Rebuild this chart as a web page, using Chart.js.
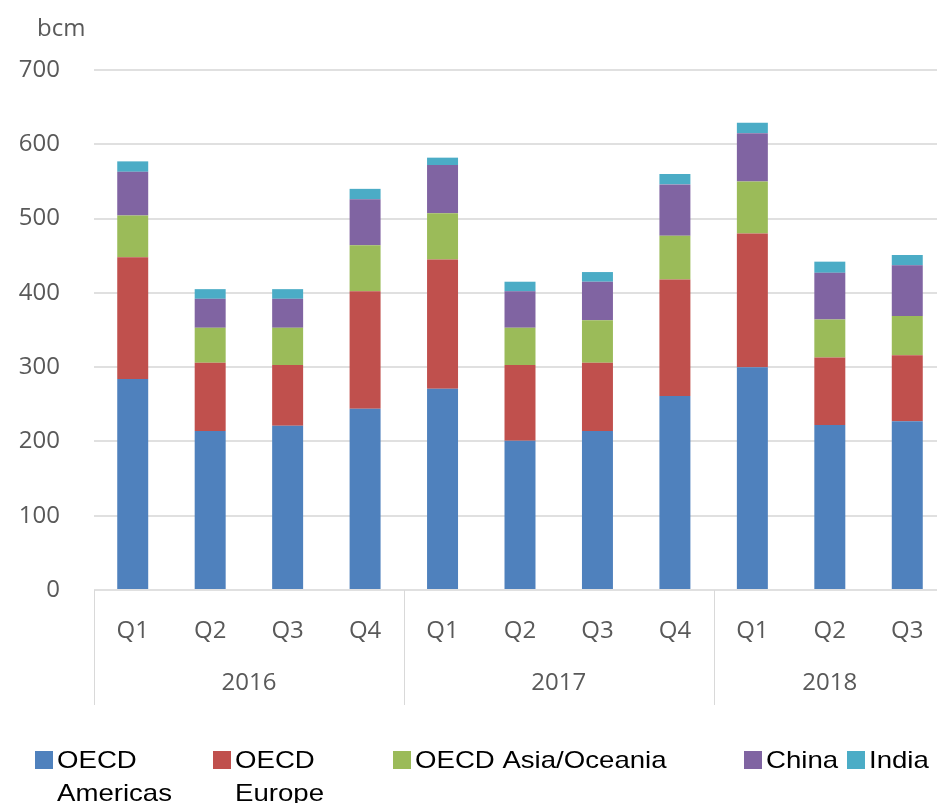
<!DOCTYPE html>
<html>
<head>
<meta charset="utf-8">
<script src="https://cdn.jsdelivr.net/npm/chart.js@4.4.1/dist/chart.umd.min.js"></script>
<style>
  html, body { margin: 0; padding: 0; background: #fff; overflow: hidden; }
  canvas { display: block; }
</style>
</head>
<body>
<!-- the plot runs a little past the right edge of the page -->
<canvas id="gasChart" width="946" height="803"></canvas>
<script>
const quarters = ['Q1', 'Q2', 'Q3', 'Q4', 'Q1', 'Q2', 'Q3', 'Q4', 'Q1', 'Q2', 'Q3'];
const years = ['2016', '2016', '2016', '2016', '2017', '2017', '2017', '2017', '2018', '2018', '2018'];

// bcm per quarter
const oecdAmericas = [284, 214, 221, 244, 271, 201, 214, 261, 300, 222, 227];
const oecdEurope = [164, 92, 82, 158, 174, 102, 92, 157, 180, 91, 89];
const oecdAsiaOceania = [56, 47, 50, 62, 62, 50, 57, 59, 70, 51, 53];
const china = [59, 39, 39, 62, 65, 49, 52, 69, 65, 63, 68];
const india = [14, 13, 13, 14, 10, 13, 13, 14, 14, 15, 14];

const seriesNames = [['OECD', 'Americas'], ['OECD', 'Europe'], ['OECD Asia/Oceania'], ['China'], ['India']];
const seriesColors = ['#4F81BD', '#C0504D', '#9BBB59', '#8064A2', '#4BACC6'];
const yMax = 700;
const yStep = 100;
const unitLabel = 'bcm';

const tickFamily = "'Open Sans', 'DejaVu Sans', sans-serif";
const legendFamily = "'Liberation Sans', Arial, sans-serif";
const axisGrey = '#595959';

const series = [oecdAmericas, oecdEurope, oecdAsiaOceania, china, india];

// second row of the category axis: year names and the lines between them
const yearGroups = {
  id: 'yearGroups',
  afterDraw(chart) {
    const { ctx, chartArea, scales: { x } } = chart;
    const half = (x.getPixelForValue(1) - x.getPixelForValue(0)) / 2;
    const top = chartArea.bottom;
    const groups = [];
    years.forEach((yr, i) => {
      const last = groups[groups.length - 1];
      if (last && last.label === yr) last.end = i;
      else groups.push({ label: yr, start: i, end: i });
    });

    ctx.save();
    ctx.strokeStyle = '#d9d9d9';
    ctx.lineWidth = 1;
    ctx.fillStyle = axisGrey;
    ctx.font = `24px ${tickFamily}`;
    ctx.textAlign = 'center';
    ctx.textBaseline = 'middle';
    groups.forEach((g) => {
      const left = x.getPixelForValue(g.start) - half;
      const right = x.getPixelForValue(g.end) + half;
      [left, right].forEach((px) => {
        const sx = Math.round(px) + 0.5;
        ctx.beginPath();
        ctx.moveTo(sx, top);
        ctx.lineTo(sx, top + 115);
        ctx.stroke();
      });
      ctx.fillText(g.label, (left + right) / 2, top + 93);
    });
    ctx.restore();
  }
};

// unit text above the value axis
const unitTitle = {
  id: 'unitTitle',
  afterDraw(chart) {
    const { ctx } = chart;
    ctx.save();
    ctx.fillStyle = axisGrey;
    ctx.font = `24px ${tickFamily}`;
    ctx.textAlign = 'left';
    ctx.textBaseline = 'alphabetic';
    ctx.fillText(unitLabel, 37, 36);
    ctx.restore();
  }
};

// legend laid out in fixed columns, names may wrap over two lines
const legendRow = {
  id: 'legendRow',
  afterDraw(chart, args, opts) {
    const { ctx } = chart;
    ctx.save();
    ctx.font = `${opts.fontSize}px ${legendFamily}`;
    ctx.textAlign = 'left';
    ctx.textBaseline = 'alphabetic';
    chart.data.datasets.forEach((ds, i) => {
      const x = opts.columns[i];
      ctx.fillStyle = ds.backgroundColor;
      ctx.fillRect(x, opts.boxTop, opts.box, opts.box);
      ctx.fillStyle = '#000';
      ds.legendLines.forEach((line, j) => {
        ctx.save();
        ctx.translate(x + opts.box + 4, opts.baseline + j * opts.lineHeight);
        ctx.scale(opts.stretch, 1);
        ctx.fillText(line, 0, 0);
        ctx.restore();
      });
    });
    ctx.restore();
  }
};

new Chart(document.getElementById('gasChart'), {
  type: 'bar',
  data: {
    labels: quarters,
    datasets: series.map((values, i) => ({
      label: seriesNames[i].join(' '),
      legendLines: seriesNames[i],
      data: values,
      backgroundColor: seriesColors[i],
      borderWidth: 0,
      categoryPercentage: 1,
      barPercentage: 0.4
    }))
  },
  options: {
    responsive: false,
    animation: false,
    devicePixelRatio: 1,
    layout: {
      padding: { top: 70, left: 0, right: 0, bottom: 88 }
    },
    plugins: {
      legend: { display: false },
      tooltip: { enabled: false },
      legendRow: {
        columns: [35, 213, 393, 744, 847],
        boxTop: 751,
        box: 18,
        baseline: 768,
        lineHeight: 33,
        fontSize: 24,
        stretch: 1.15
      }
    },
    scales: {
      x: {
        stacked: true,
        grid: { display: false },
        border: { display: false },
        ticks: {
          color: axisGrey,
          font: { family: tickFamily, size: 24 },
          padding: 19,
          maxRotation: 0,
          autoSkip: false
        },
        afterFit: (scale) => { scale.height = 125; }
      },
      y: {
        stacked: true,
        min: 0,
        max: yMax,
        grid: { color: '#e0e0e0', lineWidth: 2, drawTicks: false },
        border: { display: false },
        ticks: {
          stepSize: yStep,
          color: axisGrey,
          font: { family: tickFamily, size: 24 },
          padding: 34
        },
        afterFit: (scale) => { scale.width = 94; }
      }
    }
  },
  plugins: [yearGroups, unitTitle, legendRow]
});
</script>
</body>
</html>
